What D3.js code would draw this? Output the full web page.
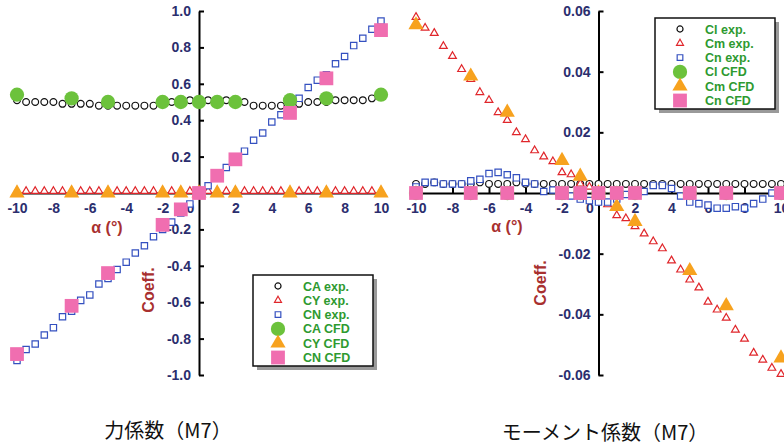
<!DOCTYPE html>
<html>
<head>
<meta charset="utf-8">
<script src="https://cdn.jsdelivr.net/npm/d3@7"></script>
<style>
  body { margin: 0; background: #fff; }
  svg { display: block; font-family: "Liberation Sans", Arial, sans-serif; }
  .tick text { fill: #2b2e6e; font-weight: bold; font-size: 14px; }
  .domain, .tick line { stroke: #000; stroke-width: 2; }
  .axisLabel { fill: #a8302f; font-weight: bold; font-size: 16px; }
  .legText { fill: #2e9a30; font-weight: bold; font-size: 12.5px; }
  .title { font-family: "Noto Sans CJK JP", sans-serif; font-size: 20px; fill: #111; }
</style>
</head>
<body>
<div id="chart"></div>
<script>
// angles of attack (deg)
var alphaExp = [-10, -9.5, -9, -8.5, -8, -7.5, -7, -6.5, -6, -5.5, -5, -4.5, -4, -3.5, -3, -2.5, -2, -1.5, -1, -0.5,
                0, 0.5, 1, 1.5, 2, 2.5, 3, 3.5, 4, 4.5, 5, 5.5, 6, 6.5, 7, 7.5, 8, 8.5, 9, 9.5, 10];
var alphaCFD = [-10, -7, -5, -2, -1, 0, 1, 2, 5, 7, 10];

// force coefficients (left)
var caExp = [0.51, 0.50, 0.50, 0.50, 0.50, 0.49, 0.49, 0.49, 0.49, 0.48, 0.48, 0.48, 0.48, 0.48, 0.48, 0.48, 0.49, 0.50, 0.50, 0.51,
             0.51, 0.51, 0.51, 0.51, 0.51, 0.50, 0.48, 0.48, 0.48, 0.48, 0.49, 0.49, 0.50, 0.50, 0.50, 0.51, 0.51, 0.51, 0.51, 0.52, 0.53];
var cyExp = [0.01, 0.01, 0.01, 0.01, 0.01, 0.01, 0.01, 0.01, 0.01, 0.01, 0.01, 0.01, 0.01, 0.01, 0.01, 0.01, 0.01, 0.01, 0.01, 0.01,
             0.01, 0.01, 0.01, 0.01, 0.01, 0.01, 0.01, 0.01, 0.01, 0.01, 0.01, 0.01, 0.01, 0.01, 0.01, 0.01, 0.01, 0.01, 0.01, 0.01, 0.01];
var cnExp = [-0.92, -0.86, -0.83, -0.78, -0.74, -0.68, -0.65, -0.59, -0.56, -0.50, -0.47, -0.42, -0.38, -0.33, -0.29, -0.24, -0.20, -0.16, -0.11, -0.06,
             -0.01, 0.04, 0.09, 0.14, 0.19, 0.23, 0.29, 0.33, 0.39, 0.43, 0.47, 0.52, 0.58, 0.62, 0.65, 0.71, 0.75, 0.81, 0.85, 0.90, 0.945];
var caCFD = [0.54, 0.52, 0.50, 0.50, 0.50, 0.50, 0.50, 0.50, 0.51, 0.52, 0.54];
var cyCFD = [0, 0, 0, 0, 0, 0, 0, 0, 0, 0, 0];
var cnCFD = [-0.885, -0.62, -0.44, -0.175, -0.09, 0.0, 0.095, 0.185, 0.44, 0.63, 0.895];

// moment coefficients (right)
var clExp = [0.003, 0.003, 0.0035, 0.003, 0.003, 0.003, 0.003, 0.0035, 0.003, 0.003, 0.003, 0.0035, 0.003, 0.003, 0.003, 0.003, 0.003, 0.003, 0.003, 0.003,
             0.003, 0.003, 0.003, 0.003, 0.003, 0.003, 0.003, 0.003, 0.003, 0.003, 0.003, 0.003, 0.003, 0.003, 0.003, 0.003, 0.003, 0.003, 0.003, 0.003, 0.003];
var cmExp = [0.058, 0.0544, 0.0527, 0.0484, 0.0451, 0.0408, 0.0375, 0.0332, 0.0306, 0.0266, 0.024, 0.020, 0.0177, 0.014, 0.012, 0.0104, 0.0068, 0.0061, 0.003, 0.002,
             0.0, -0.0038, -0.0074, -0.0084, -0.011, -0.0134, -0.016, -0.0183, -0.0223, -0.0253, -0.0286, -0.0312, -0.0359, -0.0385, -0.0412, -0.0451, -0.0481, -0.0527, -0.055, -0.0577, -0.0597];
var cnmExp = [0.002, 0.0035, 0.0035, 0.003, 0.003, 0.003, 0.004, 0.0045, 0.0064, 0.0068, 0.006, 0.005, 0.0035, 0.003, 0.0005, 0.001, -0.001, -0.001, -0.002, -0.0025,
              -0.003, -0.003, -0.002, -0.0005, 0.0, 0.0005, 0.0025, 0.0025, 0.0015, -0.001, -0.003, -0.0035, -0.004, -0.005, -0.005, -0.0045, -0.005, -0.0035, -0.002, 0.0, 0.001];
var clCFD = [0, 0, 0, 0, 0, 0, 0, 0, 0, 0, 0];
var cmCFD = [0.0554, 0.0385, 0.0266, 0.0107, 0.0055, 0.0, -0.0045, -0.0094, -0.0256, -0.0372, -0.0544];
var cnmCFD = [0, 0, 0, 0, 0, 0, 0, 0, 0, 0, 0];

var xTicks = [-10, -8, -6, -4, -2, 0, 2, 4, 6, 8, 10];
var leftYTicks = [1.0, 0.8, 0.6, 0.4, 0.2, -0.2, -0.4, -0.6, -0.8, -1.0];
var rightYTicks = [0.06, 0.04, 0.02, -0.02, -0.04, -0.06];
var leftNames = ["CA exp.", "CY exp.", "CN exp.", "CA  CFD", "CY  CFD", "CN  CFD"];
var rightNames = ["Cl exp.", "Cm exp.", "Cn exp.", "Cl CFD", "Cm CFD", "Cn CFD"];

// marker styles: exp = open small, CFD = filled large
var styles = [
  {type: d3.symbolCircle, size: 36, fill: "#fff", stroke: "#111"},
  {type: d3.symbolTriangle, size: 26, fill: "#fff", stroke: "#e0262b"},
  {type: d3.symbolSquare, size: 40, fill: "#fff", stroke: "#3450c0"},
  {type: d3.symbolCircle, size: 160, fill: "#6cc23c", stroke: "none"},
  {type: d3.symbolTriangle, size: 100, fill: "#f7a21e", stroke: "none"},
  {type: d3.symbolSquare, size: 190, fill: "#f06eb0", stroke: "none"}
];

var svg = d3.select("#chart").append("svg")
  .attr("width", 784)
  .attr("height", 448);

// plain hyphen instead of unicode minus
function hyphen(fmt) {
  var f = d3.format(fmt);
  return d => f(d).replace("\u2212", "-");
}

function drawPanel(p) {
  var x = d3.scaleLinear().domain([-10, 10]).range(p.xRange);
  var y = d3.scaleLinear().domain(p.yDomain).range([375, 11]);
  var g = svg.append("g");

  // x axis (ticks point up)
  var xa = g.append("g")
    .attr("transform", `translate(0, ${y(0)})`)
    .call(d3.axisBottom(x).tickValues(xTicks).tickFormat(hyphen("d"))
      .tickSizeInner(-5).tickSizeOuter(0).tickPadding(10));
  xa.selectAll(".tick text").attr("dx", d => d === 0 ? -9 : 0);

  // y axis (ticks point right)
  g.append("g")
    .attr("transform", `translate(${x(0)}, 0)`)
    .call(d3.axisLeft(y).tickValues(p.yTicks).tickFormat(hyphen(p.fmt))
      .tickSizeInner(-5).tickSizeOuter(0).tickPadding(8));

  g.append("text").attr("class", "axisLabel")
    .attr("x", p.alphaPos[0]).attr("y", p.alphaPos[1])
    .attr("text-anchor", "middle")
    .text("α (°)");

  g.append("text").attr("class", "axisLabel")
    .attr("transform", `translate(${p.coeffPos[0]}, ${p.coeffPos[1]}) rotate(-90)`)
    .attr("text-anchor", "middle")
    .attr("font-size", 15)
    .text("Coeff.");

  // series: exp first, CFD on top
  var series = [
    {a: alphaExp, v: p.series[0]}, {a: alphaExp, v: p.series[1]}, {a: alphaExp, v: p.series[2]},
    {a: alphaCFD, v: p.series[3]}, {a: alphaCFD, v: p.series[4]}, {a: alphaCFD, v: p.series[5]}
  ];
  series.forEach(function(s, i) {
    var st = styles[i];
    g.append("g").selectAll("path")
      .data(s.v)
      .enter()
      .append("path")
      .attr("d", d3.symbol().type(st.type).size(st.size))
      .attr("transform", (d, j) => `translate(${x(s.a[j])}, ${y(d)})`)
      .attr("fill", st.fill)
      .attr("stroke", st.stroke)
      .attr("stroke-width", 1.2);
  });

  // legend
  var lg = g.append("g").attr("transform", `translate(${p.legend[0]}, ${p.legend[1]})`);
  lg.append("rect").attr("x", 4).attr("y", 4).attr("width", 120).attr("height", 91).attr("fill", "#9a9a9a");
  lg.append("rect").attr("width", 120).attr("height", 91).attr("fill", "#fff").attr("stroke", "#111").attr("stroke-width", 1.5);
  p.names.forEach(function(n, i) {
    var st = styles[i];
    var ry = 11 + i * 14.3;
    lg.append("path")
      .attr("d", d3.symbol().type(st.type).size(i < 3 ? st.size * 0.8 : st.size))
      .attr("transform", `translate(25, ${ry})`)
      .attr("fill", st.fill)
      .attr("stroke", st.stroke)
      .attr("stroke-width", 1.2);
    lg.append("text").attr("class", "legText")
      .attr("x", 50).attr("y", ry + 4.5)
      .text(n);
  });

  svg.append("text").attr("class", "title")
    .attr("x", p.title[0]).attr("y", p.title[1])
    .attr("text-anchor", "middle")
    .text(p.titleText);
}

drawPanel({
  xRange: [17, 381], yDomain: [-1, 1], yTicks: leftYTicks, fmt: ".1f",
  series: [caExp, cyExp, cnExp, caCFD, cyCFD, cnCFD],
  names: leftNames, legend: [253, 275],
  alphaPos: [107, 233], coeffPos: [154, 290],
  title: [168, 438], titleText: "力係数（M7）"
});

drawPanel({
  xRange: [416, 781], yDomain: [-0.06, 0.06], yTicks: rightYTicks, fmt: ".2f",
  series: [clExp, cmExp, cnmExp, clCFD, cmCFD, cnmCFD],
  names: rightNames, legend: [655, 18],
  alphaPos: [507, 232], coeffPos: [546, 283],
  title: [605, 440], titleText: "モーメント係数（M7）"
});
</script>
</body>
</html>
